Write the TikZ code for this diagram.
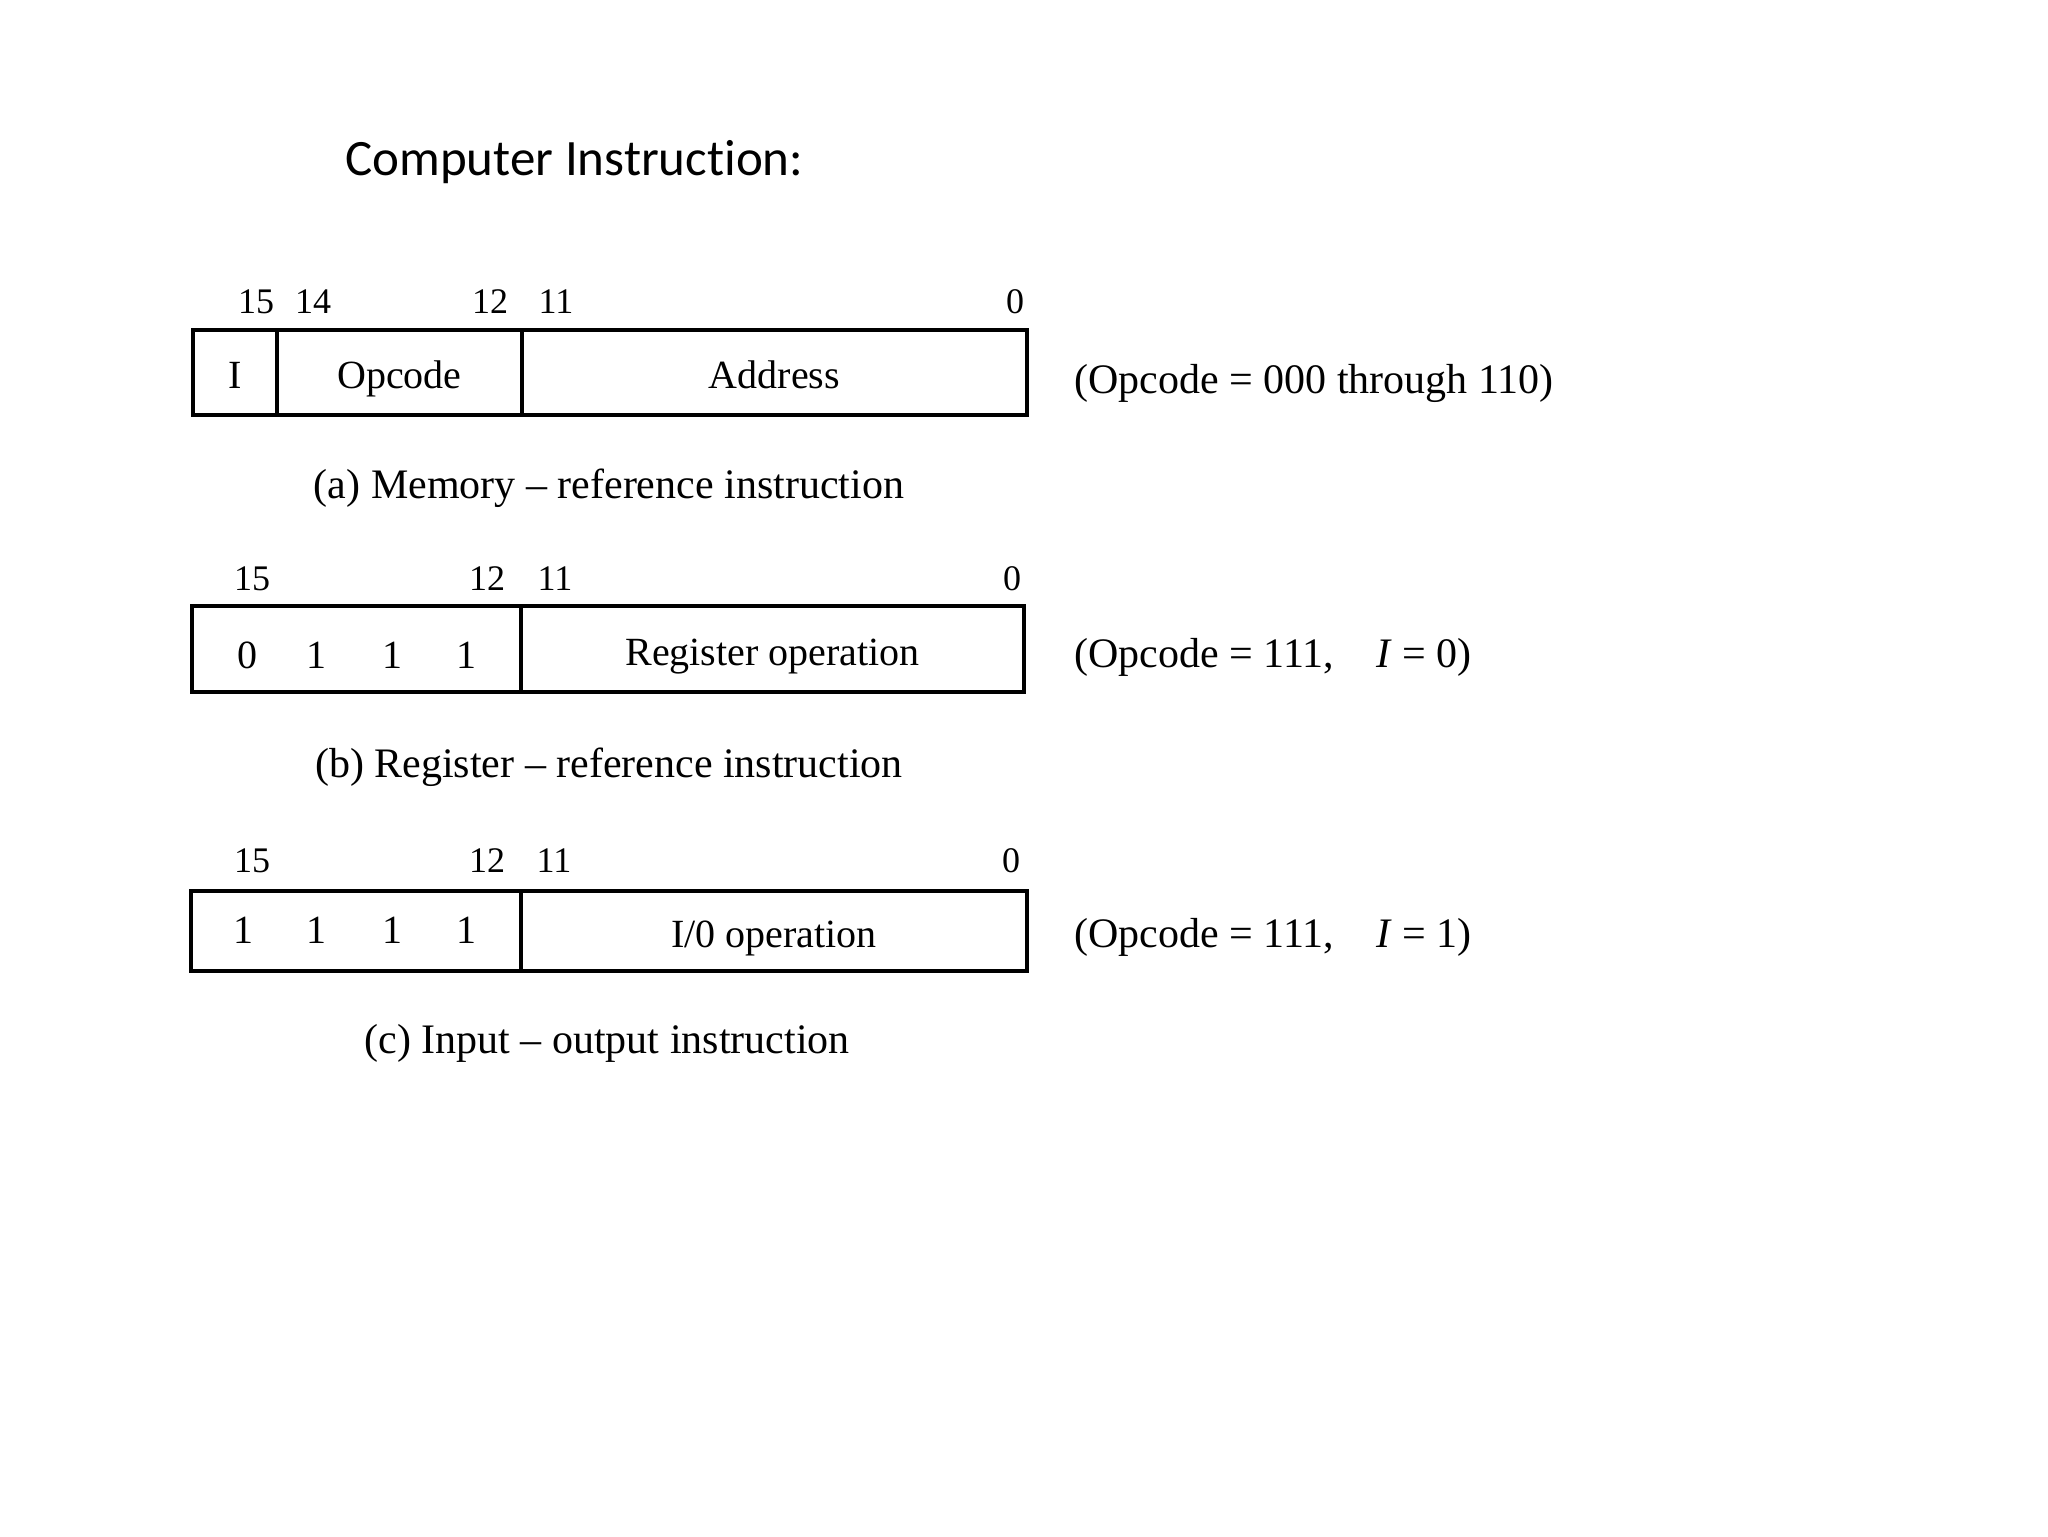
\documentclass[tikz,border=0pt]{standalone}
\usepackage{fontspec}
\setmainfont{Liberation Serif}
\newfontfamily\titlefont[Ligatures=NoCommon]{Carlito}
\usetikzlibrary{positioning}

\begin{document}
\begin{tikzpicture}[x=0.5pt,y=-0.5pt,
  field/.style={draw,line width=1.7pt,inner sep=0pt,outer sep=0pt,text height=16pt,text depth=0pt,font=\fontsize{20}{24}\selectfont},
  bitno/.style={anchor=base,inner sep=0pt,font=\fontsize{18}{21}\selectfont},
  bitval/.style={anchor=base,inner sep=0pt,font=\fontsize{20}{24}\selectfont},
  caption/.style={anchor=base,inner sep=0pt,font=\fontsize{21}{25}\selectfont},
  note/.style={anchor=base west,inner sep=0pt,font=\fontsize{21}{25}\selectfont}]
  \useasboundingbox (0,0) rectangle (2048,1536);
  \node[anchor=base west,inner sep=0pt,font=\titlefont\fontsize{25.5}{30}\selectfont] (title) at (345,175) {Computer Instruction:};

  \node[field,minimum width=42pt,minimum height=42.5pt] (memI) at (235,372.5) {I};
  \node[field,minimum width=122.5pt,minimum height=42.5pt,right=0pt of memI] (memOp) {Opcode};
  \node[field,minimum width=252.5pt,minimum height=42.5pt,right=0pt of memOp] (memAd) {Address};
  \foreach \x/\n in {256/15,313/14,490/12,556/11,1015/0}
    \node[bitno] (memN\n) at (\x,313) {\n};
  \node[note] (memNote) at (1074,393) {(Opcode = 000 through 110)};
  \node[caption] (memCap) at (609,498) {(a) Memory -- reference instruction};

  \node[field,minimum width=164.5pt,minimum height=43pt] (regOp) at (356.5,649) {};
  \node[field,minimum width=251.5pt,minimum height=43pt,right=0pt of regOp] (regOper) {Register operation};
  \foreach \x/\n in {252/15,487/12,555/11,1012/0}
    \node[bitno] (regN\n) at (\x,590) {\n};
  \foreach \x/\b [count=\i] in {247/0,316/1,392/1,466/1}
    \node[bitval] (regB\i) at (\x,668) {\b};
  \node[note] (regNote) at (1074,667) {(Opcode = 111,\quad \textit{I} = 0)};
  \node[caption] (regCap) at (609,777) {(b) Register -- reference instruction};

  \node[field,minimum width=165pt,minimum height=40pt] (ioOp) at (356,931) {};
  \node[field,minimum width=253pt,minimum height=40pt,right=0pt of ioOp] (ioOper) {I/0 operation};
  \foreach \x/\n in {252/15,487/12,554/11,1011/0}
    \node[bitno] (ioN\n) at (\x,872) {\n};
  \foreach \x/\b [count=\i] in {243/1,316/1,392/1,466/1}
    \node[bitval] (ioB\i) at (\x,943) {\b};
  \node[note] (ioNote) at (1074,947) {(Opcode = 111,\quad \textit{I} = 1)};
  \node[caption] (ioCap) at (607,1053) {(c) Input -- output instruction};
\end{tikzpicture}
\end{document}
